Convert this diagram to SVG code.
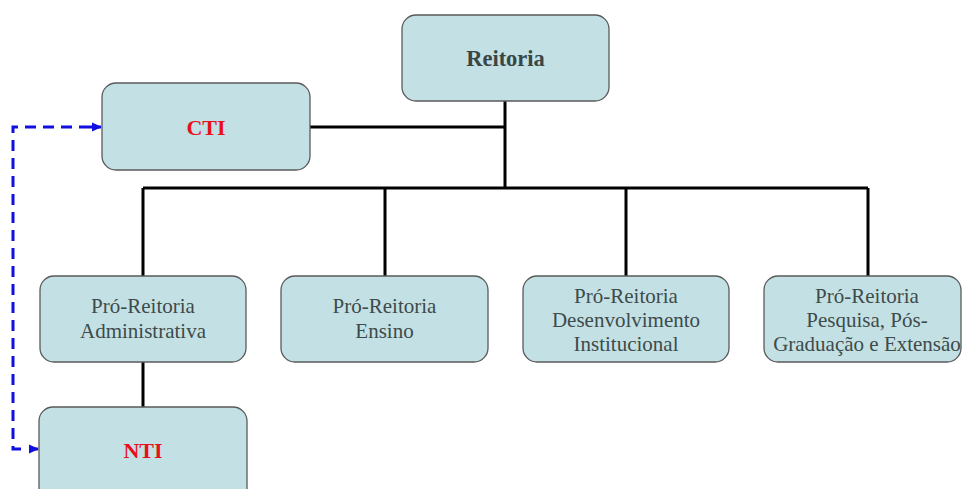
<svg xmlns="http://www.w3.org/2000/svg" width="963" height="489" viewBox="0 0 963 489">
  <style>
    .box { fill: #c3e1e5; stroke: #5a5a5a; stroke-width: 1.3; }
    .lbl { font-family: "Liberation Serif", "Times New Roman", serif; font-size: 21px; fill: #3f4a4a; text-anchor: middle; }
    .title { font-family: "Liberation Serif", "Times New Roman", serif; font-size: 22.5px; font-weight: bold; fill: #3a4646; text-anchor: middle; }
    .red { font-family: "Liberation Serif", "Times New Roman", serif; font-size: 22px; font-weight: bold; fill: #e8101a; text-anchor: middle; }
    .tree { fill: none; stroke: #000; stroke-width: 3; }
    .dash { fill: none; stroke: #1010e0; stroke-width: 3; stroke-dasharray: 11 7; }
  </style>
  <defs>
    <marker id="arr" markerWidth="10" markerHeight="10" refX="9" refY="5" orient="auto" markerUnits="userSpaceOnUse">
      <path d="M0,0.5 L10,5 L0,9.5 Z" fill="#1010e0"/>
    </marker>
  </defs>
  <rect width="963" height="489" fill="#ffffff"/>

  <g id="connectors">
    <path class="tree" d="M310,127 H505"/>
    <path class="tree" d="M505,101 V188"/>
    <path class="tree" d="M143,188 H868"/>
    <path class="tree" d="M143,188 V276 M385,188 V276 M626,188 V276 M868,188 V276"/>
    <path class="tree" d="M143,362 V407"/>
    <path class="dash" d="M90,127 H13 V449 H26"/>
    <path d="M90,127 H101" stroke="#1010e0" stroke-width="3" marker-end="url(#arr)"/>
    <path d="M30,449 H38" stroke="#1010e0" stroke-width="3" marker-end="url(#arr)"/>
  </g>

  <g id="reitoria">
    <rect class="box" x="402" y="15" width="207" height="86" rx="14"/>
    <text class="title" x="505.5" y="66">Reitoria</text>
  </g>

  <g id="cti">
    <rect class="box" x="102" y="83" width="208" height="87" rx="14"/>
    <text class="red" x="206" y="135">CTI</text>
  </g>

  <g id="pro-adm">
    <rect class="box" x="40" y="276" width="206" height="86" rx="14"/>
    <text class="lbl" x="143" y="313">Pró-Reitoria</text>
    <text class="lbl" x="143" y="338">Administrativa</text>
  </g>

  <g id="pro-ensino">
    <rect class="box" x="281" y="276" width="207" height="86" rx="14"/>
    <text class="lbl" x="384.5" y="313">Pró-Reitoria</text>
    <text class="lbl" x="384.5" y="338">Ensino</text>
  </g>

  <g id="pro-desenv">
    <rect class="box" x="523" y="276" width="206" height="86" rx="14"/>
    <text class="lbl" x="626" y="303">Pró-Reitoria</text>
    <text class="lbl" x="626" y="327">Desenvolvimento</text>
    <text class="lbl" x="626" y="351">Institucional</text>
  </g>

  <g id="pro-pesquisa">
    <rect class="box" x="764" y="276" width="197" height="86" rx="14"/>
    <text class="lbl" x="867" y="303">Pró-Reitoria</text>
    <text class="lbl" x="867" y="327">Pesquisa, Pós-</text>
    <text class="lbl" x="867" y="351">Graduação e Extensão</text>
  </g>

  <g id="nti">
    <rect class="box" x="39" y="407" width="208" height="95" rx="14"/>
    <text class="red" x="143" y="458">NTI</text>
  </g>
</svg>
